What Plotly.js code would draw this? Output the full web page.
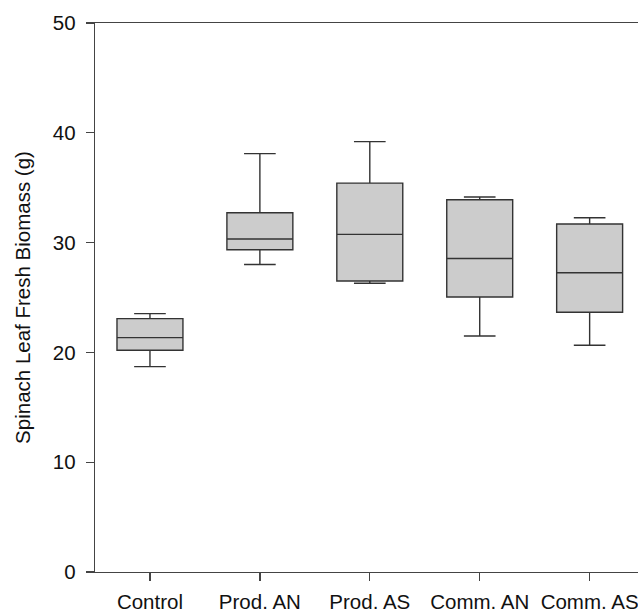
<!DOCTYPE html>
<html>
<head>
<meta charset="utf-8">
<script src="https://cdn.plot.ly/plotly-3.0.1.min.js"></script>
<style>html,body{margin:0;padding:0;background:#fff;}#chart{width:638px;height:613px;}</style>
</head>
<body>
<div id="chart"></div>
<script>
const categories = ["Control", "Prod. AN", "Prod. AS", "Comm. AN", "Comm. AS"];
const lowerWhisker = [18.7, 28.0, 26.3, 21.5, 20.65];
const q1Values = [20.2, 29.35, 26.5, 25.05, 23.65];
const medianValues = [21.35, 30.33, 30.75, 28.55, 27.25];
const q3Values = [23.08, 32.72, 35.42, 33.9, 31.7];
const upperWhisker = [23.53, 38.1, 39.2, 34.15, 32.27];
const yTickValues = [0, 10, 20, 30, 40, 50];

const fontFamily = "Arial, 'Liberation Sans', sans-serif";
const fontSize = 20.5;

const trace = {
  type: "box",
  x: categories,
  q1: q1Values,
  median: medianValues,
  q3: q3Values,
  lowerfence: lowerWhisker,
  upperfence: upperWhisker,
  boxpoints: false,
  width: 0.6,
  whiskerwidth: 0.48,
  fillcolor: "#cccccc",
  line: {color: "#333333", width: 1.4},
  hoverinfo: "skip",
  showlegend: false
};

const layout = {
  width: 638,
  height: 613,
  margin: {l: 95, r: 0, t: 23, b: 41, autoexpand: false},
  paper_bgcolor: "#ffffff",
  plot_bgcolor: "#ffffff",
  font: {family: fontFamily, size: fontSize, color: "#111111"},
  xaxis: {
    type: "category",
    range: [-0.5, 4.44],
    showgrid: false,
    zeroline: false,
    showline: true,
    linecolor: "#444444",
    linewidth: 1.3,
    mirror: true,
    ticks: "outside",
    ticklen: 8,
    tickwidth: 1.3,
    tickcolor: "#444444",
    ticklabelstandoff: 3,
    tickfont: {family: fontFamily, size: fontSize, color: "#111111"}
  },
  yaxis: {
    range: [0, 50],
    tickvals: yTickValues,
    ticktext: yTickValues.map(String),
    showgrid: false,
    zeroline: false,
    showline: true,
    linecolor: "#444444",
    linewidth: 1.3,
    mirror: false,
    ticks: "outside",
    ticklen: 8,
    tickwidth: 1.3,
    tickcolor: "#444444",
    ticklabelstandoff: 6,
    tickfont: {family: fontFamily, size: fontSize, color: "#111111"},
    title: {text: "Spinach Leaf Fresh Biomass (g)", font: {family: fontFamily, size: fontSize, color: "#111111"}, standoff: 16}
  }
};

Plotly.newPlot("chart", [trace], layout, {staticPlot: true, displayModeBar: false});
</script>
</body>
</html>
